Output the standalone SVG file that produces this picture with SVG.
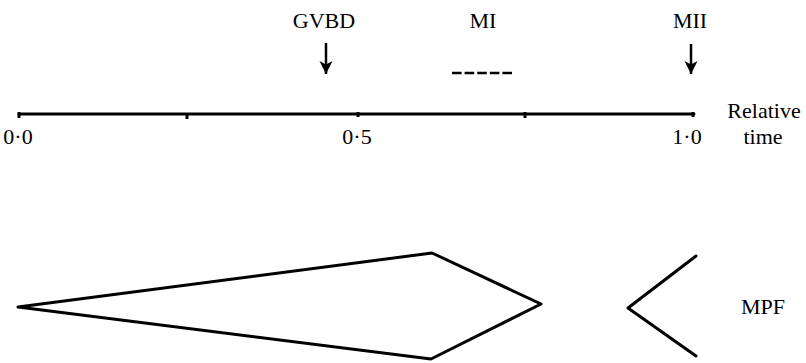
<svg xmlns="http://www.w3.org/2000/svg" width="806" height="363" viewBox="0 0 806 363">
<defs>
<style>
text{font-family:"Liberation Serif","Times New Roman",serif;fill:#000;}
.lbl{font-size:22px;text-anchor:middle;}
.num{font-size:22px;text-anchor:middle;}
.ln{stroke:#000;stroke-width:3;fill:none;stroke-linejoin:round;stroke-linecap:round;}
</style>
<marker id="ah" viewBox="0 0 13 14" refX="13" refY="7" markerWidth="13" markerHeight="14" markerUnits="userSpaceOnUse" orient="auto">
<path d="M0,0.5 L13,7 L0,13.5 L3.5,7 Z" fill="#000"/>
</marker>
</defs>
<rect width="806" height="363" fill="#fff"/>
<g id="axis">
<line class="ln" x1="19" y1="114" x2="694" y2="114"/>
<g stroke="#000" stroke-width="3">
<line x1="19" y1="112" x2="19" y2="118"/>
<line x1="187" y1="114" x2="187" y2="119"/>
<line x1="358" y1="112" x2="358" y2="117"/>
<line x1="525" y1="112" x2="525" y2="118"/>
<line x1="693" y1="112" x2="693" y2="117"/>
</g>
<text class="num" x="18" y="144">0·0</text>
<text class="num" x="357" y="144">0·5</text>
<text class="num" x="687" y="144">1·0</text>
<text class="num" x="764" y="118">Relative</text>
<text class="num" x="763" y="144">time</text>
</g>
<g id="gvbd">
<text class="lbl" x="324" y="28">GVBD</text>
</g>
<g id="mi">
<text class="lbl" x="483" y="28">MI</text>
<line x1="452" y1="73" x2="512" y2="73" stroke="#000" stroke-width="2.5" stroke-dasharray="9.6,3"/>
</g>
<g id="mii">
<text class="lbl" x="690" y="28">MII</text>
</g>
<g id="connectors">
<line x1="326" y1="43" x2="326" y2="74" stroke="#000" stroke-width="2.5" marker-end="url(#ah)"/>
<line x1="691" y1="44" x2="691" y2="74" stroke="#000" stroke-width="2.5" marker-end="url(#ah)"/>
</g>
<g id="mpf">
<path class="ln" d="M18,307 L432,253 L541,304 L431,359 Z"/>
<path class="ln" d="M696,256 L628,308 L696,356"/>
<text class="num" x="763" y="314">MPF</text>
</g>
</svg>
